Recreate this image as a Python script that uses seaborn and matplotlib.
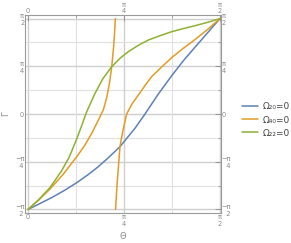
import numpy as np
import pandas as pd
import matplotlib
matplotlib.use("Agg")
import matplotlib.pyplot as plt
import seaborn as sns

# --- DATA (in units of pi/2) ---
blue_u = [0.0, 0.06, 0.123, 0.19, 0.254, 0.31, 0.366, 0.42, 0.479, 0.557, 0.606, 0.679, 0.748, 0.81, 0.870, 0.935, 1.0]
blue_v = [-1.0, -0.94, -0.876, -0.80, -0.719, -0.64, -0.552, -0.455, -0.342, -0.150, -0.01, 0.21, 0.40, 0.56, 0.70, 0.85, 1.0]

orange1_u = [0.0, 0.054, 0.115, 0.184, 0.254, 0.295, 0.332, 0.365, 0.392, 0.41, 0.425, 0.436, 0.444, 0.45, 0.455]
orange1_v = [-1.0, -0.905, -0.785, -0.63, -0.447, -0.33, -0.202, -0.07, 0.042, 0.17, 0.33, 0.495, 0.66, 0.82, 1.0]

orange2_u = [0.456, 0.461, 0.467, 0.473, 0.479, 0.488, 0.497, 0.514, 0.54, 0.575, 0.61, 0.644, 0.70, 0.748, 0.81, 0.870, 0.935, 1.0]
orange2_v = [-1.0, -0.83, -0.656, -0.50, -0.342, -0.24, -0.150, 0.0, 0.10, 0.199, 0.30, 0.391, 0.50, 0.59, 0.69, 0.78, 0.885, 1.0]

green_u = [0.0, 0.054, 0.115, 0.175, 0.215, 0.254, 0.28, 0.305, 0.349, 0.39, 0.436, 0.48, 0.522, 0.575, 0.627, 0.69, 0.748, 0.81, 0.870, 0.935, 1.0]
green_v = [-1.0, -0.9, -0.77, -0.595, -0.45, -0.26, -0.12, 0.02, 0.216, 0.37, 0.495, 0.585, 0.652, 0.72, 0.775, 0.822, 0.862, 0.895, 0.925, 0.96, 1.0]

labels = ["Ω₂₀=0", "Ω₄₀=0", "Ω₂₂=0"]
colors = ["#5E81B5", "#E19C24", "#8FB032"]

h = np.pi / 2
rows = []
for u, v, name, br in [(blue_u, blue_v, labels[0], "b"),
                       (orange1_u, orange1_v, labels[1], "o1"),
                       (orange2_u, orange2_v, labels[1], "o2"),
                       (green_u, green_v, labels[2], "g")]:
    for a, b in zip(u, v):
        rows.append({"theta": a * h, "gamma": b * h, "curve": name, "branch": br})
df = pd.DataFrame(rows)

sns.set_style("white")
fig = plt.figure(figsize=(2.91, 2.43), dpi=100)
ax = fig.add_axes([25 / 291, 1 - 213.3 / 243, 196 / 291, 198.3 / 243])

sns.lineplot(data=df, x="theta", y="gamma", hue="curve", units="branch",
             estimator=None, sort=False, palette=colors, hue_order=labels,
             linewidth=1.1, ax=ax)

ax.set_xlim(-0.0156 * h, 1.0052 * h)
ax.set_ylim(-1.04 * h, 1.037 * h)

gray = "#8a8a8a"
minor = np.arange(-4, 5) * np.pi / 8
for m in minor:
    major = abs(m / (np.pi / 4) - round(m / (np.pi / 4))) < 1e-6
    lc = "#cfcfcf" if major else "#e0e0e0"
    if m >= 0:
        ax.axvline(m, color=lc, lw=1.0 if major else 0.8, zorder=0)
    ax.axhline(m, color=lc, lw=1.0 if major else 0.8, zorder=0)

xt = [0, np.pi / 4, np.pi / 2]
xl = ["0", "π\n4", "π\n2"]
yt = [-np.pi / 2, -np.pi / 4, 0, np.pi / 4, np.pi / 2]
yl = ["−π\n  2", "−π\n  4", "0", "π\n4", "π\n2"]
ax.set_xticks(xt)
ax.set_xticklabels(xl)
ax.set_yticks(yt)
ax.set_yticklabels(yl)
ax.set_xticks(np.arange(0, 5) * np.pi / 8, minor=True)
ax.set_yticks(minor, minor=True)
ax.tick_params(which="both", direction="in", color=gray, labelcolor=gray,
               labelsize=4.8, top=True, right=True, labeltop=True, labelright=True,
               pad=0.5)
ax.tick_params(which="major", length=4, width=0.6)
ax.tick_params(which="minor", length=2, width=0.5)
for lab in ax.get_xticklabels() + ax.get_yticklabels():
    lab.set_linespacing(1.15)
    lab.set_multialignment("center")
for s in ax.spines.values():
    s.set_color("#9a9a9a")
    s.set_linewidth(0.8)

ax.set_xlabel("Θ", color=gray, fontsize=6)
ax.xaxis.set_label_coords(0.5, -0.095)
ax.set_ylabel("Γ", color=gray, fontsize=6)
ax.yaxis.set_label_coords(-0.075, 0.5)

ax.legend(loc="center left", bbox_to_anchor=(242 / 291, 1 - 120 / 243),
          bbox_transform=fig.transFigure, frameon=False, fontsize=6.5,
          handlelength=1.8, handletextpad=0.5, labelspacing=0.45,
          labelcolor="#444444", borderpad=0, borderaxespad=0)

fig.savefig("out.png", dpi=100)
